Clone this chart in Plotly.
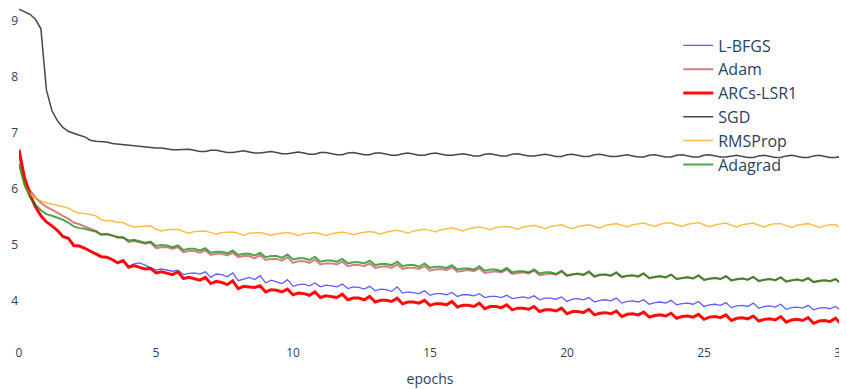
import plotly.graph_objects as go

epochs = [round(i * 0.2, 1) for i in range(151)]

lbfgs = [
    6.70, 6.22, 5.91, 5.69, 5.53,
    5.42, 5.34, 5.25, 5.14, 5.13,
    4.97, 4.99, 4.95, 4.88, 4.85,
    4.78, 4.79, 4.74, 4.69, 4.73,
    4.62, 4.66, 4.68, 4.64, 4.60,
    4.55, 4.57, 4.55, 4.53, 4.55,
    4.47, 4.49, 4.50, 4.48, 4.52,
    4.42, 4.48, 4.47, 4.43, 4.50,
    4.36, 4.39, 4.42, 4.38, 4.45,
    4.32, 4.37, 4.34, 4.31, 4.38,
    4.26, 4.29, 4.30, 4.27, 4.32,
    4.25, 4.28, 4.27, 4.25, 4.30,
    4.22, 4.25, 4.24, 4.21, 4.26,
    4.18, 4.21, 4.20, 4.17, 4.25,
    4.14, 4.16, 4.15, 4.13, 4.18,
    4.10, 4.13, 4.13, 4.11, 4.15,
    4.08, 4.11, 4.11, 4.09, 4.13,
    4.06, 4.08, 4.08, 4.06, 4.10,
    4.04, 4.06, 4.07, 4.05, 4.09,
    4.02, 4.05, 4.05, 4.03, 4.07,
    3.99, 4.03, 4.04, 4.02, 4.06,
    3.98, 4.01, 4.02, 4.00, 4.05,
    3.96, 3.99, 4.00, 3.98, 4.02,
    3.94, 3.97, 3.98, 3.96, 4.01,
    3.93, 3.95, 3.96, 3.94, 3.99,
    3.90, 3.93, 3.94, 3.92, 3.97,
    3.88, 3.91, 3.92, 3.90, 3.96,
    3.87, 3.90, 3.91, 3.89, 3.94,
    3.85, 3.88, 3.89, 3.87, 3.92,
    3.84, 3.87, 3.88, 3.86, 3.90,
    3.83,
]

adam = [
    6.60, 6.17, 5.98, 5.85, 5.75,
    5.68, 5.63, 5.57, 5.52, 5.47,
    5.40, 5.37, 5.33, 5.28, 5.25,
    5.19, 5.20, 5.17, 5.13, 5.14,
    5.05, 5.07, 5.05, 5.02, 5.04,
    4.94, 4.96, 4.96, 4.93, 4.96,
    4.87, 4.89, 4.89, 4.86, 4.90,
    4.82, 4.84, 4.84, 4.81, 4.86,
    4.78, 4.80, 4.80, 4.76, 4.82,
    4.73, 4.75, 4.75, 4.72, 4.78,
    4.68, 4.71, 4.71, 4.68, 4.74,
    4.65, 4.67, 4.67, 4.65, 4.70,
    4.62, 4.64, 4.64, 4.62, 4.67,
    4.59, 4.61, 4.62, 4.59, 4.65,
    4.57, 4.59, 4.59, 4.57, 4.62,
    4.54, 4.56, 4.57, 4.55, 4.60,
    4.52, 4.54, 4.55, 4.53, 4.58,
    4.50, 4.52, 4.53, 4.51, 4.56,
    4.48, 4.50, 4.51, 4.49, 4.54,
    4.46, 4.48, 4.49, 4.47, 4.52,
    4.44, 4.47, 4.48, 4.46, 4.51,
    4.43, 4.46, 4.47, 4.45, 4.50,
    4.42, 4.45, 4.45, 4.43, 4.49,
    4.40, 4.43, 4.44, 4.42, 4.47,
    4.39, 4.41, 4.42, 4.40, 4.45,
    4.37, 4.40, 4.41, 4.39, 4.44,
    4.36, 4.39, 4.40, 4.38, 4.43,
    4.35, 4.38, 4.39, 4.37, 4.42,
    4.34, 4.37, 4.38, 4.36, 4.40,
    4.33, 4.36, 4.37, 4.35, 4.39,
    4.31,
]

arcs_lsr1 = [
    6.70, 6.20, 5.90, 5.68, 5.52,
    5.41, 5.34, 5.26, 5.15, 5.12,
    4.99, 4.98, 4.94, 4.89, 4.83,
    4.79, 4.78, 4.74, 4.68, 4.72,
    4.60, 4.63, 4.60, 4.57, 4.58,
    4.50, 4.52, 4.50, 4.47, 4.52,
    4.40, 4.42, 4.40, 4.37, 4.42,
    4.31, 4.35, 4.33, 4.29, 4.36,
    4.22, 4.26, 4.25, 4.24, 4.27,
    4.16, 4.20, 4.19, 4.16, 4.21,
    4.11, 4.14, 4.13, 4.10, 4.16,
    4.06, 4.09, 4.08, 4.06, 4.12,
    4.02, 4.05, 4.05, 4.02, 4.08,
    3.98, 4.01, 4.01, 3.99, 4.05,
    3.95, 3.98, 3.98, 3.96, 4.01,
    3.92, 3.95, 3.95, 3.93, 3.99,
    3.89, 3.92, 3.92, 3.90, 3.96,
    3.86, 3.90, 3.90, 3.88, 3.93,
    3.84, 3.87, 3.87, 3.85, 3.90,
    3.81, 3.84, 3.84, 3.82, 3.87,
    3.77, 3.81, 3.81, 3.79, 3.85,
    3.75, 3.78, 3.79, 3.77, 3.82,
    3.72, 3.76, 3.77, 3.75, 3.80,
    3.71, 3.74, 3.75, 3.73, 3.78,
    3.69, 3.72, 3.73, 3.71, 3.76,
    3.67, 3.71, 3.72, 3.70, 3.75,
    3.65, 3.69, 3.70, 3.68, 3.73,
    3.64, 3.67, 3.68, 3.66, 3.72,
    3.62, 3.66, 3.67, 3.65, 3.70,
    3.60, 3.64, 3.65, 3.63, 3.69,
    3.59,
]

sgd = [
    9.21, 9.17, 9.12, 9.03, 8.86,
    7.77, 7.40, 7.22, 7.10, 7.03,
    6.99, 6.96, 6.93, 6.87, 6.85,
    6.84, 6.84, 6.81, 6.80, 6.79,
    6.77, 6.77, 6.75, 6.74, 6.73,
    6.73, 6.73, 6.71, 6.70, 6.70,
    6.71, 6.71, 6.69, 6.67, 6.67,
    6.69, 6.69, 6.67, 6.65, 6.65,
    6.67, 6.68, 6.66, 6.64, 6.64,
    6.66, 6.67, 6.65, 6.63, 6.63,
    6.65, 6.66, 6.64, 6.62, 6.62,
    6.65, 6.65, 6.63, 6.61, 6.61,
    6.64, 6.65, 6.63, 6.61, 6.61,
    6.64, 6.64, 6.62, 6.60, 6.60,
    6.63, 6.64, 6.62, 6.60, 6.60,
    6.63, 6.64, 6.62, 6.60, 6.60,
    6.62, 6.63, 6.61, 6.59, 6.59,
    6.62, 6.63, 6.61, 6.59, 6.59,
    6.62, 6.63, 6.61, 6.59, 6.59,
    6.61, 6.62, 6.60, 6.58, 6.58,
    6.61, 6.62, 6.60, 6.58, 6.58,
    6.61, 6.62, 6.60, 6.58, 6.58,
    6.60, 6.61, 6.59, 6.57, 6.57,
    6.60, 6.61, 6.59, 6.57, 6.57,
    6.60, 6.61, 6.59, 6.57, 6.57,
    6.60, 6.61, 6.59, 6.57, 6.57,
    6.59, 6.60, 6.58, 6.56, 6.56,
    6.59, 6.60, 6.58, 6.56, 6.56,
    6.59, 6.60, 6.58, 6.56, 6.56,
    6.59, 6.60, 6.58, 6.56, 6.56,
    6.58,
]

rmsprop = [
    6.45, 6.08, 5.90, 5.83, 5.79,
    5.75, 5.73, 5.71, 5.68, 5.66,
    5.60, 5.57, 5.56, 5.54, 5.52,
    5.45, 5.43, 5.43, 5.40, 5.40,
    5.35, 5.32, 5.33, 5.33, 5.34,
    5.28, 5.25, 5.27, 5.28, 5.28,
    5.24, 5.21, 5.24, 5.25, 5.25,
    5.22, 5.19, 5.22, 5.23, 5.23,
    5.21, 5.17, 5.21, 5.22, 5.22,
    5.20, 5.17, 5.20, 5.21, 5.22,
    5.20, 5.17, 5.20, 5.21, 5.22,
    5.20, 5.17, 5.20, 5.22, 5.23,
    5.21, 5.18, 5.21, 5.23, 5.24,
    5.22, 5.19, 5.23, 5.25, 5.26,
    5.24, 5.21, 5.25, 5.27, 5.28,
    5.26, 5.23, 5.27, 5.29, 5.30,
    5.28, 5.25, 5.29, 5.31, 5.32,
    5.30, 5.27, 5.31, 5.32, 5.33,
    5.31, 5.28, 5.32, 5.34, 5.35,
    5.32, 5.29, 5.33, 5.35, 5.36,
    5.32, 5.29, 5.33, 5.35, 5.36,
    5.33, 5.30, 5.35, 5.37, 5.38,
    5.35, 5.32, 5.36, 5.38, 5.39,
    5.36, 5.33, 5.37, 5.39, 5.39,
    5.36, 5.33, 5.37, 5.39, 5.40,
    5.36, 5.32, 5.36, 5.38, 5.39,
    5.35, 5.32, 5.36, 5.38, 5.39,
    5.35, 5.32, 5.36, 5.38, 5.38,
    5.35, 5.31, 5.35, 5.37, 5.38,
    5.35, 5.31, 5.34, 5.36, 5.36,
    5.30,
]

adagrad = [
    6.45, 6.07, 5.85, 5.72, 5.62,
    5.55, 5.52, 5.49, 5.45, 5.40,
    5.33, 5.30, 5.29, 5.26, 5.24,
    5.18, 5.19, 5.17, 5.14, 5.13,
    5.08, 5.09, 5.07, 5.04, 5.06,
    4.98, 5.00, 4.99, 4.96, 4.99,
    4.91, 4.93, 4.93, 4.90, 4.94,
    4.86, 4.88, 4.88, 4.85, 4.90,
    4.82, 4.84, 4.84, 4.81, 4.86,
    4.78, 4.80, 4.80, 4.77, 4.83,
    4.74, 4.76, 4.76, 4.73, 4.79,
    4.70, 4.72, 4.72, 4.70, 4.75,
    4.67, 4.69, 4.69, 4.67, 4.72,
    4.64, 4.66, 4.66, 4.64, 4.70,
    4.62, 4.64, 4.64, 4.61, 4.67,
    4.59, 4.61, 4.61, 4.59, 4.64,
    4.56, 4.58, 4.58, 4.56, 4.62,
    4.54, 4.56, 4.56, 4.53, 4.59,
    4.51, 4.53, 4.53, 4.51, 4.56,
    4.49, 4.51, 4.51, 4.48, 4.54,
    4.46, 4.48, 4.49, 4.47, 4.53,
    4.44, 4.47, 4.47, 4.45, 4.51,
    4.43, 4.45, 4.46, 4.44, 4.49,
    4.41, 4.43, 4.44, 4.42, 4.47,
    4.39, 4.41, 4.42, 4.40, 4.46,
    4.38, 4.40, 4.41, 4.39, 4.44,
    4.37, 4.39, 4.40, 4.38, 4.43,
    4.36, 4.38, 4.39, 4.37, 4.42,
    4.35, 4.37, 4.38, 4.36, 4.41,
    4.34, 4.36, 4.37, 4.35, 4.39,
    4.31,
]

series = [
    ("L-BFGS", lbfgs, "rgba(30,30,255,0.72)", 1.3),
    ("Adam", adam, "rgba(190,60,60,0.65)", 2),
    ("ARCs-LSR1", arcs_lsr1, "rgba(255,0,0,0.95)", 3),
    ("SGD", sgd, "rgba(0,0,0,0.72)", 1.5),
    ("RMSProp", rmsprop, "rgba(255,165,0,0.72)", 1.5),
    ("Adagrad", adagrad, "rgba(0,128,0,0.7)", 2),
]

fig = go.Figure()
for name, ys, color, w in series:
    fig.add_trace(go.Scatter(x=epochs, y=ys, mode="lines", name=name,
                             line=dict(color=color, width=w)))

# page body has an 8px default margin, so the figure is sized to fit the window
fig.update_layout(
    template="plotly_white",
    width=839, height=381,
    margin=dict(l=11, r=6, t=0, b=45),
    font=dict(family="Open Sans, sans-serif", color="#2a3f5f", size=12),
    legend=dict(x=0.802, y=0.939, xanchor="left", yanchor="top",
                font=dict(size=16), bgcolor="rgba(0,0,0,0)"),
    xaxis=dict(title=dict(text="epochs", font=dict(size=14), standoff=14),
               range=[0, 30], automargin=False, ticklabeloverflow="allow",
               showgrid=False, zeroline=False, showline=False, dtick=5),
    yaxis=dict(range=[3.23, 9.232], automargin=False, showgrid=False,
               zeroline=False, showline=False, dtick=1),
)

fig.write_html("out.html")
